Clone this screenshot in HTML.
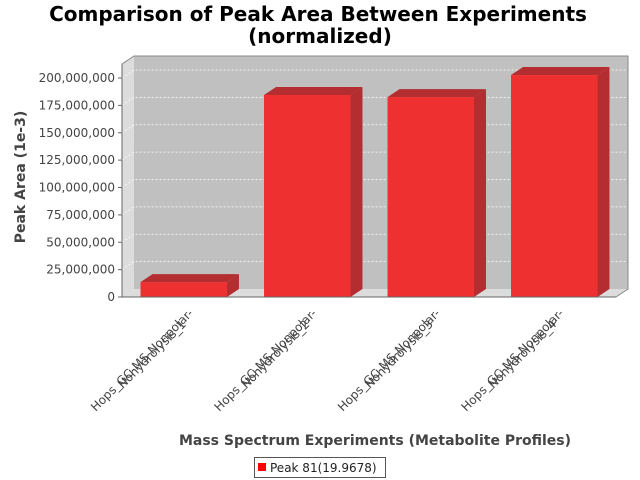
<!DOCTYPE html>
<html><head><meta charset="utf-8"><style>
body{margin:0;background:#fff}
svg{display:block;font-family:"DejaVu Sans","Liberation Sans",sans-serif}
</style></head><body>
<svg id="chart" width="640" height="480" viewBox="0 0 640 480">
<text x="318" y="21" text-anchor="middle" font-size="20" font-weight="bold">Comparison of Peak Area Between Experiments</text>
<text x="320" y="43" text-anchor="middle" font-size="20" font-weight="bold">(normalized)</text>
<g id="plot"></g>
<text transform="translate(25,177) rotate(-90)" text-anchor="middle" font-size="14" font-weight="bold" fill="#444">Peak Area (1e-3)</text>
<text x="375" y="445" text-anchor="middle" font-size="14" font-weight="bold" fill="#444">Mass Spectrum Experiments (Metabolite Profiles)</text>
<g>
<rect x="254.5" y="457.5" width="131" height="20" fill="#fff" stroke="#555"/>
<rect x="258" y="463" width="8" height="8" fill="#f00"/>
<text x="270" y="472" font-size="12" fill="#222">Peak 81(19.9678)</text>
</g>
</svg>
<script>
const categories=["Hops_GC-MS-Nonpolar-|Nohydrolysis_1","Hops_GC-MS-Nonpolar-|Nohydrolysis_2","Hops_GC-MS-Nonpolar-|Nohydrolysis_3","Hops_GC-MS-Nonpolar-|Nohydrolysis_4"];
const values=[13600000,184500000,182600000,202700000];
const ticks=[0,25000000,50000000,75000000,100000000,125000000,150000000,175000000,200000000];
const tickLabels=["0","25,000,000","50,000,000","75,000,000","100,000,000","125,000,000","150,000,000","175,000,000","200,000,000"];
const NS="http://www.w3.org/2000/svg";
const g=document.getElementById('plot');
const L=122,R=616,B=297,T=64,DX=12,DY=8,MAX=212800000;
const y=v=>B-(v/MAX)*(B-T);
const catW=(R-L)/categories.length;
const x=i=>L+catW*(i+0.5);
function mk(tag,attrs,name){const e=document.createElementNS(NS,tag);for(const k in attrs)e.setAttribute(k,attrs[k]);


g.appendChild(e);return e;}
mk('polygon',{points:`${L+DX},${T-DY} ${R+DX},${T-DY} ${R+DX},${B-DY} ${L+DX},${B-DY}`,fill:'#c0c0c0'},'plot-background');
mk('polygon',{points:`${L},${T} ${L+DX},${T-DY} ${L+DX},${B-DY} ${L},${B}`,fill:'#dcdcdc'},'left-wall');
mk('polygon',{points:`${L},${B} ${L+DX},${B-DY} ${R+DX},${B-DY} ${R},${B}`,fill:'#dcdcdc'},'floor');
ticks.forEach((t,i)=>{const yy=y(t);
if(t>0){mk('polyline',{points:`${L},${yy} ${L+DX},${yy-DY} ${R+DX},${yy-DY}`,fill:'none',stroke:'#fff','stroke-dasharray':'2,2','stroke-width':0.8},'gridline');}
mk('line',{x1:L-4,y1:yy,x2:L,y2:yy,stroke:'#666'},'y-tick');
const tx=mk('text',{x:L-7,y:yy+4,'text-anchor':'end','font-size':12,fill:'#444'},'y-tick-label');tx.textContent=tickLabels[i];});
mk('polyline',{points:`${L},${T} ${L+DX},${T-DY} ${R+DX},${T-DY} ${R+DX},${B-DY} ${R},${B}`,fill:'none',stroke:'#888'},'plot-outline');
const bw=catW*0.7;
values.forEach((v,i)=>{const x0=x(i)-bw/2,x1=x(i)+bw/2,yt=y(v);
mk('polygon',{points:`${x0},${yt} ${x0+DX},${yt-DY} ${x1+DX},${yt-DY} ${x1},${yt}`,fill:'#b42d30'},'bar-top');
mk('polygon',{points:`${x1},${yt} ${x1+DX},${yt-DY} ${x1+DX},${B-DY} ${x1},${B}`,fill:'#b42d30'},'bar-side');
mk('rect',{x:x0,y:yt,width:bw,height:B-yt,fill:'#ee3030'},'bar-'+(i+1));
const parts=categories[i].split('|');
const a=mk('text',{x:x(i)+10,y:314,'text-anchor':'end','font-size':12,fill:'#444',transform:`rotate(-45 ${x(i)+10} 314)`},'x-tick-label');a.textContent=parts[0];
const b=mk('text',{x:x(i)+3,y:325,'text-anchor':'end','font-size':12,fill:'#444',transform:`rotate(-45 ${x(i)+3} 325)`},'x-tick-label-line2');b.textContent=parts[1];});
mk('line',{x1:L,y1:T,x2:L,y2:B,stroke:'#666'},'y-axis-line');
mk('line',{x1:L,y1:B,x2:R,y2:B,stroke:'#666'},'x-axis-line');
</script>
</body></html>
